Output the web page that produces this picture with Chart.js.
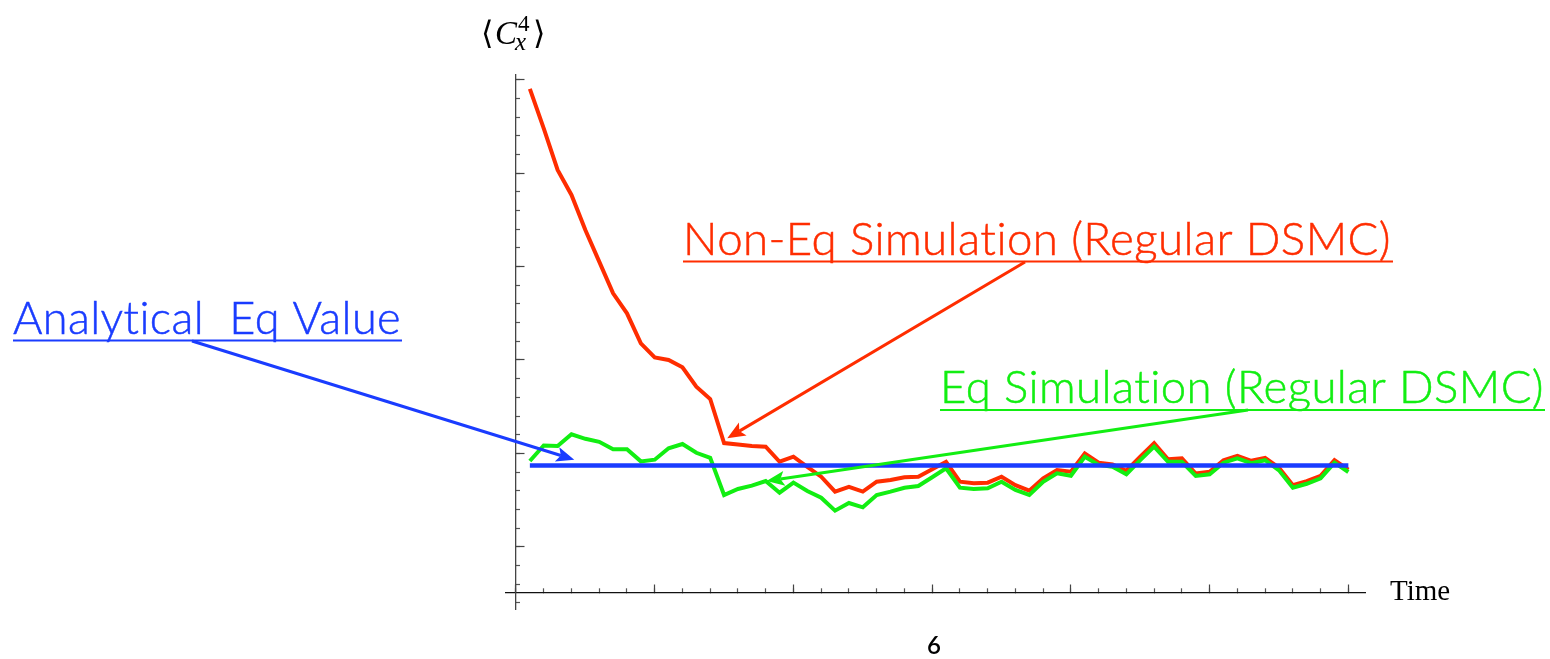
<!DOCTYPE html>
<html>
<head>
<meta charset="utf-8">
<script src="https://cdn.jsdelivr.net/npm/chart.js@4/dist/chart.umd.min.js"></script>
<style>
  html, body { margin: 0; padding: 0; background: #ffffff; }
  canvas { display: block; }
</style>
</head>
<body>
<canvas id="c" width="1550" height="659"></canvas>
<script>
// ---------------- data ----------------
const times = [1,2,3,4,5,6,7,8,9,10,11,12,13,14,15,16,17,18,19,20,
               21,22,23,24,25,26,27,28,29,30,31,32,33,34,35,36,37,38,39,40,
               41,42,43,44,45,46,47,48,49,50,51,52,53,54,55,56,57,58,59,60];

const nonEqSim = [0.9452,0.9241,0.9018,0.8884,0.8696,0.8527,0.8357,0.8250,0.8089,0.8014,
                  0.8000,0.7961,0.7857,0.7791,0.7555,0.7547,0.7539,0.7536,0.7455,0.7482,
                  0.7428,0.7375,0.7295,0.7321,0.7295,0.7348,0.7357,0.7372,0.7375,0.7415,
                  0.7455,0.7348,0.7340,0.7343,0.7375,0.7330,0.7300,0.7366,0.7411,0.7402,
                  0.7500,0.7450,0.7441,0.7407,0.7482,0.7554,0.7468,0.7473,0.7392,0.7401,
                  0.7463,0.7487,0.7460,0.7476,0.7423,0.7329,0.7351,0.7380,0.7463,0.7413];

const eqSim = [0.7459,0.7542,0.7539,0.7602,0.7578,0.7562,0.7522,0.7522,0.7457,0.7466,
               0.7527,0.7550,0.7503,0.7476,0.7277,0.7309,0.7327,0.7352,0.7289,0.7343,
               0.7298,0.7262,0.7193,0.7234,0.7211,0.7277,0.7295,0.7316,0.7325,0.7372,
               0.7420,0.7316,0.7309,0.7313,0.7348,0.7304,0.7277,0.7348,0.7393,0.7380,
               0.7482,0.7438,0.7428,0.7388,0.7464,0.7536,0.7455,0.7455,0.7379,0.7388,
               0.7450,0.7473,0.7447,0.7463,0.7409,0.7316,0.7337,0.7366,0.7450,0.7400];

const eqValue = 0.7435;
const eqValueSpan = [1, 60];

const labelNonEq = 'Non-Eq Simulation (Regular DSMC)';
const labelEq = 'Eq Simulation (Regular DSMC)';
const labelAnalytic = 'Analytical  Eq Value';
const xAxisTitle = 'Time';
const pageNumber = '6';

// arrow tips, in data coordinates [time, value]
const tipNonEq = [15.23, 0.7581];
const tipEq = [18.06, 0.7352];
const tipAnalytic = [4.2, 0.7466];

// ---------------- styles / layout ----------------
const RED = '#ff2d00', GREEN = '#12ee12', BLUE = '#1a3cff';
const xMin = -0.72, xMax = 61.2, yMin = 0.66663, yMax = 0.95265, xAxisCross = 0.6752;

const pts = (xs, ys) => xs.map((t, i) => ({x: t, y: ys[i]}));

function arrow(ctx, x0, y0, x1, y1, color, lw) {
  const ang = Math.atan2(y1 - y0, x1 - x0);
  const L = 18, W = 7.5, N = 4;
  ctx.save();
  ctx.strokeStyle = color; ctx.fillStyle = color; ctx.lineWidth = lw; ctx.lineCap = 'butt';
  ctx.beginPath();
  ctx.moveTo(x0, y0);
  ctx.lineTo(x1 - Math.cos(ang) * (L - N), y1 - Math.sin(ang) * (L - N));
  ctx.stroke();
  ctx.translate(x1, y1); ctx.rotate(ang);
  ctx.beginPath();
  ctx.moveTo(0, 0); ctx.lineTo(-L, -W); ctx.lineTo(-L + N, 0); ctx.lineTo(-L, W);
  ctx.closePath(); ctx.fill();
  ctx.restore();
}

function label(ctx, text, x, baseline, capH, textW, underY, underEnd, color) {
  const fs = capH / 0.72;
  ctx.save();
  ctx.font = '300 ' + fs + 'px Lato, "Open Sans", sans-serif';
  if ('textRendering' in ctx) ctx.textRendering = 'optimizeSpeed';
  if ('letterSpacing' in ctx) ctx.letterSpacing = '0.4px';
  ctx.fillStyle = color; ctx.strokeStyle = color; ctx.lineWidth = 0.5;
  ctx.textBaseline = 'alphabetic'; ctx.textAlign = 'left';
  const w = ctx.measureText(text).width;
  ctx.translate(x, baseline);
  ctx.scale(textW / w, 1);
  ctx.fillText(text, 0, 0);
  ctx.strokeText(text, 0, 0);
  ctx.restore();
  ctx.save();
  ctx.strokeStyle = color; ctx.lineWidth = 2;
  ctx.beginPath(); ctx.moveTo(x, underY); ctx.lineTo(underEnd, underY); ctx.stroke();
  ctx.restore();
}

const annotations = {
  id: 'annotations',
  afterDraw(chart) {
    const ctx = chart.ctx, xs = chart.scales.x, ys = chart.scales.y;
    const px = p => [xs.getPixelForValue(p[0]), ys.getPixelForValue(p[1])];

    label(ctx, labelNonEq, 683, 255, 33, 708, 261.5, 1393, RED);
    label(ctx, labelEq, 940, 403, 33, 604, 410, 1545, GREEN);
    label(ctx, labelAnalytic, 13, 334, 32.5, 388, 340.5, 402, BLUE);

    let t = px(tipNonEq); arrow(ctx, 1025, 262, t[0], t[1], RED, 3);
    t = px(tipEq); arrow(ctx, 1248, 410, t[0], t[1], GREEN, 3);
    t = px(tipAnalytic); arrow(ctx, 192, 341, t[0], t[1], BLUE, 3);

    // axis labels
    ctx.save();
    ctx.fillStyle = '#000'; ctx.textBaseline = 'alphabetic'; ctx.textAlign = 'left';
    ctx.font = '32px "DejaVu Serif", "Liberation Serif", serif';
    ctx.fillText('\u27E8', 481, 44);
    ctx.font = 'italic 33px "Liberation Serif", serif';
    ctx.fillText('C', 495, 44);
    ctx.font = '23px "Liberation Serif", serif';
    ctx.fillText('4', 518, 31);
    ctx.font = 'italic 25px "Liberation Serif", serif';
    ctx.fillText('x', 515, 50);
    ctx.font = '32px "DejaVu Serif", "Liberation Serif", serif';
    ctx.fillText('\u27E9', 533, 44);

    ctx.font = '29px "Liberation Serif", serif';
    ctx.fillText(xAxisTitle, 1390, 600);

    ctx.font = '600 24px Lato, "Open Sans", sans-serif';
    ctx.textAlign = 'center';
    ctx.fillText(pageNumber, 934, 654);
    ctx.restore();
  }
};

const tickGrid = (len, color) => ({
  display: true, drawOnChartArea: false, drawTicks: true,
  tickLength: len, tickColor: color, tickWidth: 1.2
});

new Chart(document.getElementById('c'), {
  type: 'line',
  data: {
    datasets: [
      { label: 'Analytical Eq Value', data: pts(eqValueSpan, [eqValue, eqValue]),
        borderColor: BLUE, borderWidth: 4.5, pointRadius: 0, tension: 0, fill: false },
      { label: 'Eq Simulation', data: pts(times, eqSim),
        borderColor: GREEN, borderWidth: 4, pointRadius: 0, tension: 0, fill: false },
      { label: 'Non-Eq Simulation', data: pts(times, nonEqSim),
        borderColor: RED, borderWidth: 4, pointRadius: 0, tension: 0, fill: false }
    ]
  },
  options: {
    responsive: false,
    animation: false,
    devicePixelRatio: 1,
    events: [],
    layout: { padding: { left: 506, right: 185, top: 75, bottom: 50 } },
    plugins: { legend: { display: false }, tooltip: { enabled: false }, title: { display: false } },
    scales: {
      x: {
        type: 'linear', min: xMin, max: xMax, position: { y: xAxisCross },
        ticks: { display: false, stepSize: 2, autoSkip: false, includeBounds: false },
        grid: tickGrid(-5, '#555'),
        border: { display: true, color: '#111', width: 1.3 }
      },
      xMajor: {
        type: 'linear', axis: 'x', min: xMin, max: xMax, position: { y: xAxisCross },
        ticks: { display: false, stepSize: 10, autoSkip: false, includeBounds: false },
        grid: tickGrid(-8.5, '#444'),
        border: { display: false }
      },
      y: {
        type: 'linear', min: yMin, max: yMax, position: { x: 0 },
        ticks: { display: false, stepSize: 0.01, autoSkip: false, includeBounds: false },
        grid: tickGrid(-5, '#555'),
        border: { display: true, color: '#444', width: 1.3 }
      },
      yMajor: {
        type: 'linear', axis: 'y', min: yMin, max: yMax, position: { x: 0 },
        ticks: { display: false, stepSize: 0.05, autoSkip: false, includeBounds: false },
        grid: tickGrid(-8.5, '#444'),
        border: { display: false }
      }
    }
  },
  plugins: [annotations]
});
</script>
</body>
</html>
